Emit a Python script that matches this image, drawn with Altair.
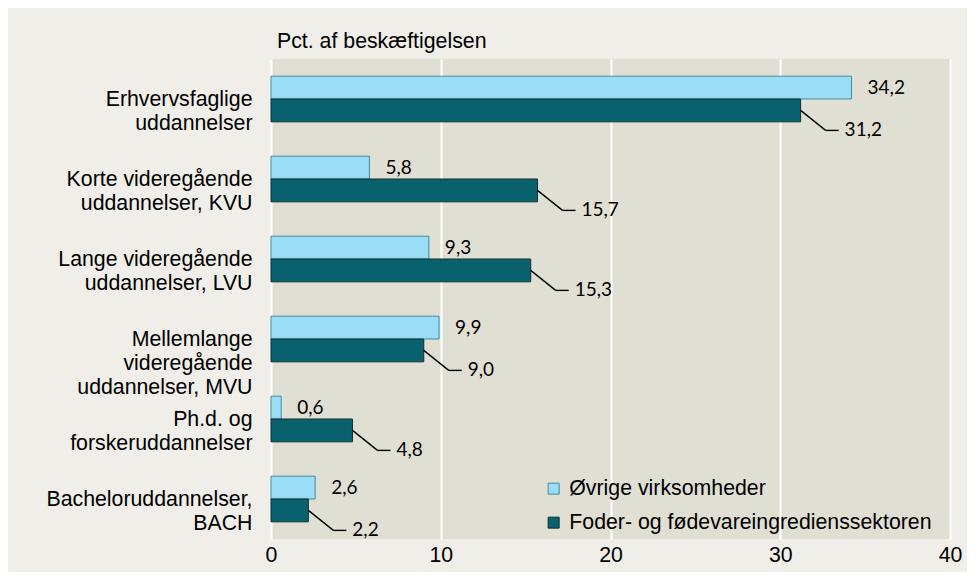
import json
import altair as alt
import pandas as pd

# ---- data ----
categories = [
    "Erhvervsfaglige uddannelser",
    "Korte videregående uddannelser, KVU",
    "Lange videregående uddannelser, LVU",
    "Mellemlange videregående uddannelser, MVU",
    "Ph.d. og forskeruddannelser",
    "Bacheloruddannelser, BACH",
]
category_lines = [
    "Erhvervsfaglige|uddannelser",
    "Korte videregående|uddannelser, KVU",
    "Lange videregående|uddannelser, LVU",
    "Mellemlange|videregående|uddannelser, MVU",
    "Ph.d. og|forskeruddannelser",
    "Bacheloruddannelser,|BACH",
]
series_names = ["Øvrige virksomheder", "Foder- og fødevareingredienssektoren"]
ovrige = [34.2, 5.8, 9.3, 9.9, 0.6, 2.6]
foder = [31.2, 15.7, 15.3, 9.0, 4.8, 2.2]
x_ticks = [0, 10, 20, 30, 40]
y_title = "Pct. af beskæftigelsen"

rows = []
for i, c in enumerate(categories):
    for s, vals in enumerate([ovrige, foder]):
        v = vals[i]
        rows.append({"cat": c, "idx": i, "series": series_names[s], "s": s,
                     "value": v, "label": f"{v:.1f}".replace(".", ",")})
df = pd.DataFrame(rows)

W, H = 679, 480
BAR = 0.285  # bar thickness, in category units

AX_FONT = "Liberation Sans"
FS = 21.3

labels_js = json.dumps(category_lines, ensure_ascii=False)

def X(field):
    return alt.X(field, type="quantitative",
                 scale=alt.Scale(domain=[0, 40], nice=False, zero=True),
                 axis=alt.Axis(values=x_ticks, title=None, grid=True, gridColor="#FFFFFF",
                               gridWidth=2, domain=False, ticks=False, labelFlush=False,
                               labelFont=AX_FONT, labelFontSize=FS, labelColor="#000000",
                               labelPadding=5))

def Y(field):
    return alt.Y(field, type="quantitative",
                 scale=alt.Scale(domain=[0, 6], nice=False, zero=False, reverse=True),
                 axis=alt.Axis(values=[i + 0.5 for i in range(len(categories))], title=None,
                               grid=False, domain=False, ticks=False, labelLimit=0,
                               labelExpr=f"split({labels_js}[floor(datum.value)], '|')",
                               labelFont=AX_FONT, labelFontSize=FS, labelColor="#000000",
                               labelAlign="right", labelBaseline="middle",
                               labelLineHeight=24, labelPadding=19))

base = alt.Chart(df).transform_calculate(
    y0=f"datum.idx + 0.5 - {BAR} + datum.s * {BAR}",
    y1=f"datum.idx + 0.5 + datum.s * {BAR}",
    ym=f"datum.idx + 0.5 - {BAR}/2 + datum.s * {BAR}",
    z="0",
)

legend_kw = dict(title=None, orient="none", legendX=272, legendY=419, symbolType="square",
                 symbolSize=121, symbolStrokeWidth=1, labelFont=AX_FONT, labelFontSize=FS,
                 labelColor="#000000", labelOffset=5, rowPadding=12, padding=0, labelLimit=0)

bars = base.mark_bar(strokeWidth=1).encode(
    x=X("value"),
    x2=alt.X2("z:Q"),
    y=Y("y0"),
    y2=alt.Y2("y1:Q"),
    color=alt.Color("series:N", scale=alt.Scale(domain=series_names, range=["#9BDCF7", "#07626E"]),
                    legend=alt.Legend(**legend_kw)),
    stroke=alt.Stroke("series:N", scale=alt.Scale(domain=series_names, range=["#3E8E9C", "#1B2B2D"]),
                      legend=alt.Legend(**legend_kw)),
)

light_labels = base.transform_filter("datum.s == 0").mark_text(
    align="left", baseline="middle", dx=16, font="Lato", fontSize=19, color="#000000"
).encode(x=X("value"), y=Y("ym"), text="label:N")

leader_diag = base.transform_filter("datum.s == 1").mark_rule(
    color="#000000", strokeWidth=1.4, x2Offset=25, y2Offset=20
).encode(x=X("value"), x2=alt.X2("value:Q"), y=Y("ym"), y2=alt.Y2("ym:Q"))

leader_h = base.transform_filter("datum.s == 1").mark_rule(
    color="#000000", strokeWidth=1.4, xOffset=25, x2Offset=38, yOffset=20
).encode(x=X("value"), x2=alt.X2("value:Q"), y=Y("ym"))

dark_labels = base.transform_filter("datum.s == 1").mark_text(
    align="left", baseline="middle", dx=44, dy=20, font="Lato", fontSize=19, color="#000000"
).encode(x=X("value"), y=Y("ym"), text="label:N")

chart = alt.layer(bars, light_labels, leader_diag, leader_h, dark_labels).properties(
    width=W, height=H,
    title=alt.TitleParams(y_title, anchor="start", frame="group", font=AX_FONT, fontSize=FS,
                          fontWeight="normal", color="#000000", dx=6, offset=7),
    autosize=alt.AutoSizeParams(type="none"),
    padding={"left": 263, "top": 51, "right": 17, "bottom": 33},
    background="#EFEEE8",
).configure_view(fill="#E0DFD4", stroke=None)

chart.save("out.html", embed_options={"renderer": "svg", "actions": False})
